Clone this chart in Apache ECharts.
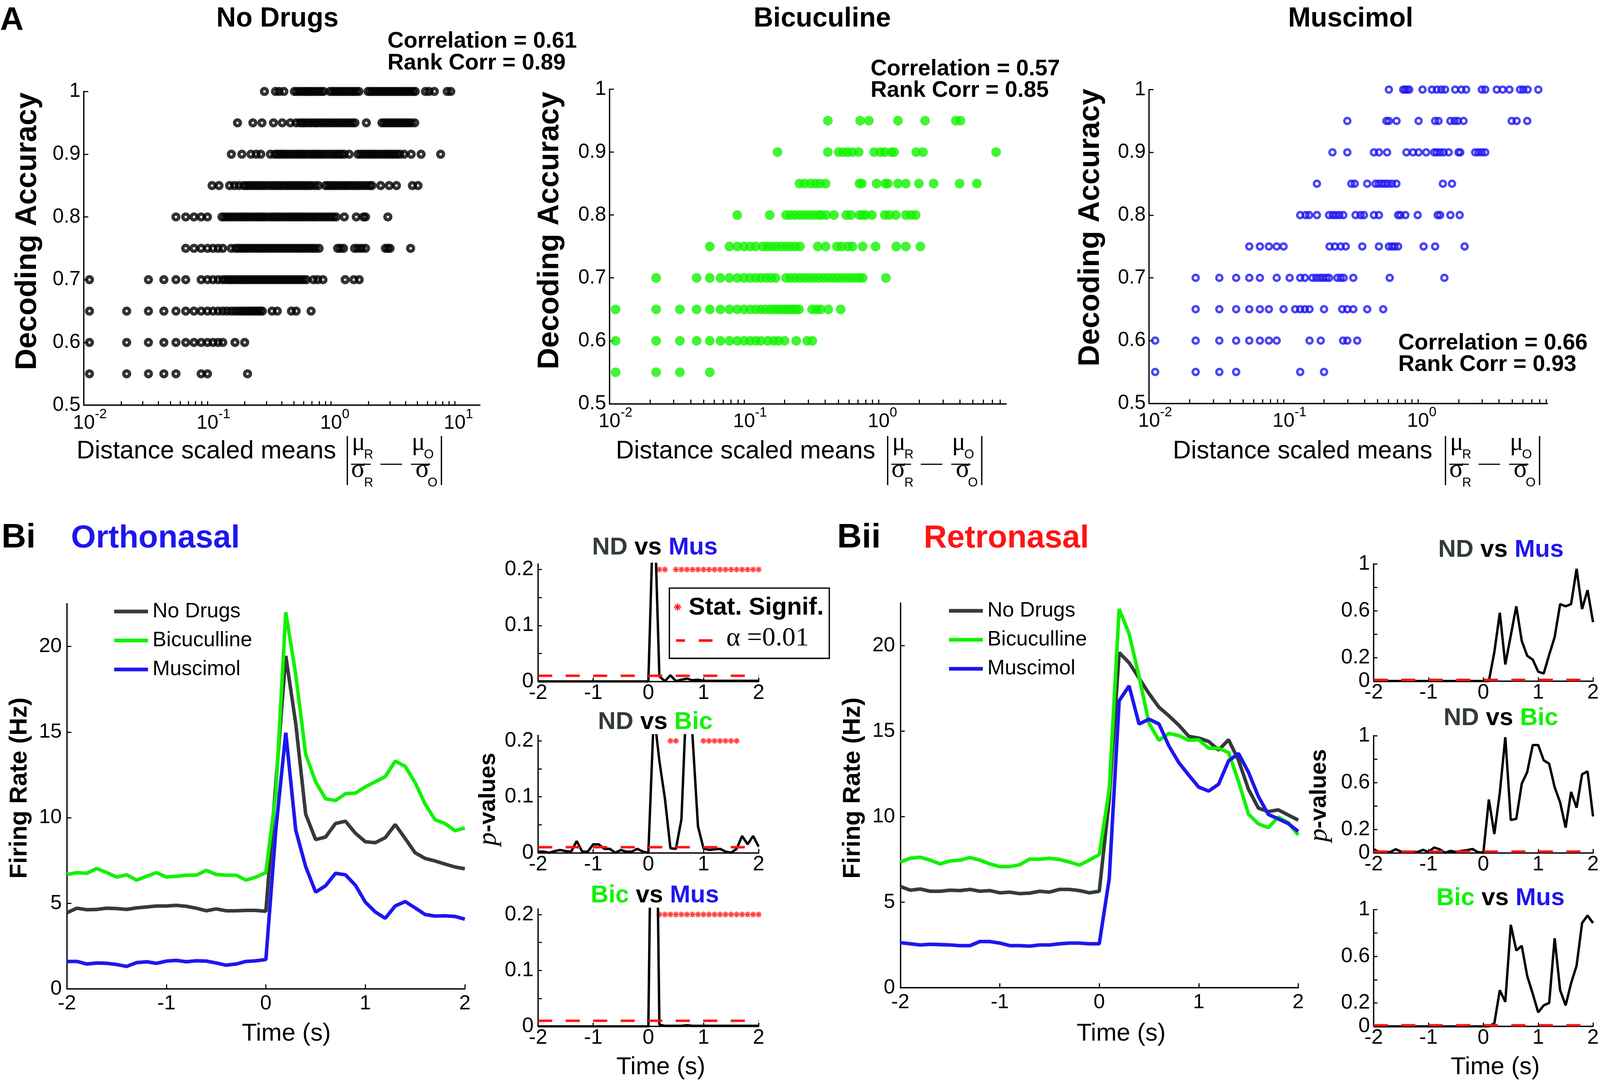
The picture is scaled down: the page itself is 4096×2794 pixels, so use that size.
<!DOCTYPE html>
<html><head><meta charset="utf-8">
<script src="https://cdn.jsdelivr.net/npm/echarts@6/dist/echarts.min.js"></script>
<style>html,body{margin:0;padding:0;background:#fff}#c{width:4096px;height:2794px}</style>
</head><body><div id="c"></div>
<script>
// ---------------- DATA ----------------
const accLevels = [1.0, 0.95, 0.9, 0.85, 0.8, 0.75, 0.7, 0.65, 0.6, 0.55];

// No Drugs: distance values per accuracy level
const nd100 = [0.289,0.355,0.38,0.415,0.505,0.53,0.56,0.59,0.62,0.65,0.68,0.71,0.75,0.79,0.83,0.87,0.98,1.03,1.08,1.13,1.19,1.25,1.31,1.38,1.45,1.52,1.6,1.68,1.99,2.08,2.18,2.28,2.39,2.5,2.62,2.75,2.88,3.02,3.16,3.31,3.47,3.64,3.81,3.99,4.18,4.38,4.6,4.8,5.8,6.2,6.85,8.7,9.3];
const nd095 = [0.175,0.233,0.276,0.342,0.403,0.468,0.522,0.56,0.59,0.62,0.66,0.7,0.74,0.78,0.83,0.88,0.935,0.99,1.05,1.11,1.18,1.25,1.32,1.4,1.48,1.56,1.93,2.58,2.7,2.83,2.97,3.12,3.28,3.45,3.62,3.8,4.0,4.2,4.45,4.75];
const nd090 = [0.156,0.19,0.225,0.248,0.27,0.323,0.35,0.37,0.39,0.41,0.435,0.46,0.49,0.52,0.55,0.58,0.61,0.65,0.69,0.73,0.77,0.81,0.86,0.91,0.97,1.03,1.09,1.15,1.21,1.28,1.4,1.65,1.74,1.84,1.95,2.06,2.18,2.3,2.44,2.58,2.73,2.89,3.05,3.22,3.4,3.6,3.9,4.45,5.35,7.7];
const nd085 = [0.109,0.124,0.151,0.165,0.18,0.196,0.207,0.219,0.232,0.246,0.26,0.275,0.29,0.31,0.33,0.35,0.37,0.39,0.415,0.44,0.465,0.49,0.52,0.55,0.58,0.615,0.65,0.69,0.74,0.79,0.9,0.95,1.0,1.06,1.12,1.19,1.26,1.33,1.41,1.5,1.59,1.69,1.8,1.92,2.05,2.14,2.52,2.95,3.38,4.55,5.05];
const nd080 = [0.0556,0.0667,0.0778,0.0889,0.1,0.131,0.138,0.146,0.155,0.164,0.174,0.185,0.196,0.207,0.219,0.232,0.246,0.26,0.275,0.29,0.31,0.33,0.35,0.37,0.39,0.415,0.44,0.465,0.49,0.52,0.55,0.58,0.615,0.65,0.69,0.73,0.77,0.82,0.87,0.92,0.98,1.04,1.1,1.28,1.6,1.83,1.9,2.88];
const nd075 = [0.0667,0.0778,0.0889,0.1,0.111,0.122,0.133,0.156,0.169,0.178,0.189,0.2,0.211,0.224,0.237,0.251,0.266,0.282,0.299,0.316,0.335,0.355,0.376,0.398,0.422,0.447,0.473,0.501,0.531,0.562,0.596,0.631,0.668,0.708,0.75,0.8,1.13,1.19,1.26,1.55,1.65,1.77,1.9,2.75,2.88,3.0,4.4];
const nd070 = [0.0111,0.0333,0.0444,0.0556,0.0667,0.0889,0.1,0.111,0.122,0.133,0.141,0.15,0.158,0.167,0.178,0.189,0.2,0.211,0.224,0.237,0.251,0.266,0.282,0.299,0.316,0.335,0.355,0.376,0.398,0.422,0.447,0.473,0.501,0.531,0.562,0.596,0.631,0.72,0.78,0.86,1.3,1.53,1.69];
const nd065 = [0.0111,0.0222,0.0333,0.0444,0.0556,0.0667,0.0778,0.0889,0.1,0.111,0.122,0.133,0.144,0.156,0.167,0.178,0.189,0.2,0.211,0.222,0.233,0.244,0.256,0.267,0.278,0.333,0.367,0.478,0.522,0.689];
const nd060 = [0.0111,0.0222,0.0333,0.0444,0.0556,0.0667,0.0778,0.0889,0.1,0.111,0.122,0.133,0.167,0.2];
const nd055 = [0.0111,0.0222,0.0333,0.0444,0.0556,0.0889,0.1,0.211];

// Bicuculline
const bic100 = [];
const bic095 = [0.419,0.728,0.845,1.39,2.21,3.74,4.05];
const bic090 = [0.177,0.419,0.504,0.545,0.59,0.638,0.71,0.925,1.03,1.11,1.24,1.3,1.9,2.13,7.45];
const bic085 = [0.258,0.282,0.313,0.339,0.367,0.403,0.72,0.75,0.964,1.12,1.17,1.39,1.59,1.99,2.56,3.99,5.36];
const bic080 = [0.0889,0.155,0.205,0.221,0.239,0.26,0.282,0.305,0.33,0.357,0.375,0.408,0.465,0.574,0.622,0.72,0.76,0.8,0.89,1.11,1.2,1.34,1.59,1.74,1.88];
const bic075 = [0.0556,0.0778,0.0889,0.1,0.111,0.122,0.138,0.149,0.161,0.174,0.19,0.205,0.221,0.239,0.26,0.353,0.403,0.49,0.531,0.59,0.638,0.76,0.948,1.35,1.59,2.04];
const bic070 = [0.0222,0.0444,0.0556,0.0667,0.0778,0.0889,0.1,0.111,0.122,0.133,0.146,0.158,0.171,0.205,0.221,0.239,0.26,0.282,0.305,0.33,0.357,0.387,0.42,0.455,0.49,0.53,0.575,0.62,0.67,0.72,0.76,1.13];
const bic065 = [0.0111,0.0222,0.0333,0.0444,0.0556,0.0667,0.0778,0.0889,0.1,0.111,0.122,0.133,0.144,0.156,0.167,0.178,0.189,0.2,0.211,0.222,0.233,0.244,0.256,0.32,0.345,0.37,0.422,0.522];
const bic060 = [0.0111,0.0222,0.0333,0.0444,0.0556,0.0667,0.0778,0.0889,0.1,0.111,0.122,0.133,0.15,0.166,0.18,0.2,0.244,0.294,0.321];
const bic055 = [0.0111,0.0222,0.0333,0.0556];

// Muscimol
const mus100 = [0.607,0.776,0.8,0.83,0.86,1.08,1.27,1.38,1.49,1.59,1.89,2.1,2.28,2.98,3.16,3.85,4.26,4.78,5.73,6.07,6.53,7.84];
const mus095 = [0.298,0.582,0.607,0.692,1.01,1.34,1.42,1.74,1.87,1.98,2.18,4.97,5.41,6.49];
const mus090 = [0.231,0.298,0.47,0.512,0.589,0.82,0.918,1.01,1.15,1.32,1.38,1.46,1.55,1.69,2.0,2.06,2.66,2.81,2.98,3.16];
const mus085 = [0.177,0.319,0.338,0.419,0.483,0.51,0.54,0.57,0.6,0.64,0.69,1.53,1.79];
const mus080 = [0.133,0.146,0.155,0.177,0.218,0.232,0.245,0.26,0.278,0.343,0.374,0.396,0.47,0.512,0.711,0.74,0.805,0.994,1.4,1.46,1.74,2.04];
const mus075 = [0.0556,0.0667,0.0778,0.0889,0.1,0.22,0.241,0.266,0.29,0.385,0.512,0.607,0.64,0.67,0.711,1.1,1.34,2.22];
const mus070 = [0.0222,0.0333,0.0444,0.0556,0.0667,0.0889,0.111,0.133,0.144,0.164,0.175,0.186,0.197,0.208,0.218,0.251,0.266,0.28,0.33,0.616,1.57];
const mus065 = [0.0222,0.0333,0.0444,0.0556,0.0667,0.0778,0.1,0.122,0.133,0.144,0.156,0.2,0.273,0.298,0.33,0.419,0.551];
const mus060 = [0.0111,0.0222,0.0333,0.0444,0.0556,0.0667,0.0778,0.0889,0.156,0.189,0.277,0.298,0.353];
const mus055 = [0.0111,0.0222,0.0333,0.0444,0.133,0.2];

// Firing rates (Hz) over time (s)
const timeSec = [-2,-1.9,-1.8,-1.7,-1.6,-1.5,-1.4,-1.3,-1.2,-1.1,-1,-0.9,-0.8,-0.7,-0.6,-0.5,-0.4,-0.3,-0.2,-0.1,0,0.1,0.2,0.3,0.4,0.5,0.6,0.7,0.8,0.9,1,1.1,1.2,1.3,1.4,1.5,1.6,1.7,1.8,1.9,2];
const orthoND  = [4.45,4.71,4.62,4.64,4.71,4.69,4.64,4.73,4.78,4.84,4.84,4.88,4.82,4.71,4.56,4.67,4.56,4.56,4.58,4.58,4.53,12.0,19.45,15.5,10.2,8.72,8.87,9.66,9.79,9.09,8.59,8.54,8.83,9.6,8.78,7.95,7.62,7.47,7.29,7.12,7.01];
const orthoBic = [6.68,6.79,6.75,7.03,6.79,6.53,6.66,6.35,6.57,6.79,6.53,6.57,6.64,6.64,6.92,6.68,6.64,6.64,6.35,6.53,6.79,11.4,22.0,18.36,13.7,12.1,11.1,11.0,11.4,11.43,11.8,12.1,12.4,13.3,13.0,12.05,10.8,9.88,9.66,9.24,9.4];
const orthoMus = [1.6,1.6,1.45,1.51,1.49,1.42,1.31,1.53,1.58,1.49,1.62,1.66,1.58,1.64,1.62,1.51,1.38,1.45,1.6,1.64,1.71,9.3,14.96,9.27,7.14,5.65,6.02,6.75,6.66,6.05,5.06,4.49,4.12,4.84,5.1,4.73,4.34,4.25,4.27,4.23,4.07];
const retroND  = [5.92,5.70,5.77,5.64,5.64,5.70,5.68,5.75,5.64,5.68,5.55,5.59,5.50,5.53,5.64,5.59,5.75,5.75,5.68,5.55,5.64,11.0,19.6,19.0,18.1,17.2,16.4,15.9,15.35,14.7,14.6,14.4,13.9,14.5,13.3,11.6,10.5,10.3,10.4,10.1,9.8];
const retroBic = [7.35,7.57,7.63,7.46,7.24,7.41,7.46,7.61,7.46,7.24,7.08,7.08,7.19,7.52,7.52,7.57,7.5,7.35,7.17,7.46,7.79,11.6,22.15,20.7,18.2,15.46,14.47,14.87,14.74,14.47,14.5,14.0,14.0,13.75,12.06,10.15,9.58,9.36,9.98,9.65,8.93];
const retroMus = [2.63,2.57,2.5,2.54,2.52,2.5,2.46,2.46,2.7,2.7,2.61,2.46,2.46,2.43,2.5,2.5,2.57,2.61,2.61,2.57,2.57,6.36,16.78,17.65,15.42,15.7,15.42,14.14,13.16,12.43,11.73,11.5,11.9,13.27,13.7,12.6,11.18,10.13,9.87,9.6,9.14];

// p-values
const orthoP_NDMus  = [0,0,0,0,0,0,0,0,0,0,0,0,0,0,0,0,0,0,0,0,0,0.34,0.009,0.0005,0.011,0.0005,0.003,0.005,0.002,0.003,0.001,0.001,0.001,0.001,0.001,0.001,0.001,0.001,0.001,0.001,0.001];
const orthoP_NDBic  = [0.002,0.002,0,0.003,0.005,0.003,0.002,0.021,0.002,0.002,0.015,0.015,0.007,0.007,0,0.005,0.002,0.002,0.007,0.002,0,0.25,0.164,0.097,0.008,0.007,0.06,0.3,0.21,0.047,0.008,0.005,0.006,0.007,0.002,0,0.007,0.03,0.015,0.03,0.011];
const orthoP_BicMus = [0,0,0,0,0,0,0,0,0,0,0,0,0,0,0,0,0,0,0,0,0,0.8,0.003,0.001,0.001,0.001,0.001,0.002,0.001,0.001,0.001,0.001,0.001,0.001,0.001,0.001,0.001,0.001,0.001,0.001,0.001];
const retroP_NDMus  = [0,0,0,0,0,0,0,0,0,0,0,0,0,0,0,0,0,0,0,0,0,0.0,0.247,0.583,0.141,0.39,0.638,0.343,0.215,0.183,0.08,0.064,0.224,0.375,0.657,0.638,0.657,0.958,0.615,0.776,0.503];
const retroP_NDBic  = [0.03,0.006,0.006,0.006,0.03,0.01,0.006,0.006,0.006,0.025,0.006,0.045,0.03,0,0.016,0.006,0.016,0.022,0.032,0.006,0,0.455,0.16,0.513,0.987,0.28,0.29,0.59,0.69,0.92,0.92,0.79,0.76,0.56,0.43,0.215,0.52,0.385,0.67,0.695,0.31];
const retroP_BicMus = [0,0,0,0,0,0,0,0,0,0,0,0,0,0,0,0,0,0,0,0,0,0.0,0.026,0.31,0.21,0.87,0.65,0.69,0.43,0.28,0.12,0.18,0.2,0.755,0.31,0.18,0.37,0.52,0.885,0.95,0.885];
const sigT_NDMus  = [0.2,0.3,0.5,0.6,0.7,0.8,0.9,1,1.1,1.2,1.3,1.4,1.5,1.6,1.7,1.8,1.9,2];
const sigT_NDBic  = [0.4,0.5,1,1.1,1.2,1.3,1.4,1.5,1.6];
const sigT_BicMus = [0.2,0.3,0.4,0.5,0.6,0.7,0.8,0.9,1,1.1,1.2,1.3,1.4,1.5,1.6,1.7,1.8,1.9,2];
const sigLevel = 0.2;
const alphaLevel = 0.01;

// tick values
const logMajorTicks = [0.01,0.1,1,10];
const logMinorTicks = [0.02,0.03,0.04,0.05,0.06,0.07,0.08,0.09,0.2,0.3,0.4,0.5,0.6,0.7,0.8,0.9,2,3,4,5,6,7,8,9];
const frYTicks = [0,5,10,15,20];
const pOrthoYTicks = [0,0.05,0.1,0.15,0.2];
const pOrthoYLabels = [0,0.1,0.2];
const pRetroYTicks = [0,0.2,0.4,0.6,0.8,1];
const pRetroYLabels = [0,0.2,0.6,1];

// ---------------- STYLE / LAYOUT ----------------
const K = 0.952;
const s = v => v * K;
const SANS = "'Liberation Sans', Arial, Helvetica, sans-serif";
const SERIF = "'Liberation Serif', 'Times New Roman', serif";
const GRAY = '#333b3b', GREEN = '#12f200', BLUE = '#1e16f0', RED = '#ff1414';
const STAR = 'path://M40,0L60,0L60,100L40,100Z M0,40L100,40L100,60L0,60Z M7.9,22.1L22.1,7.9L92.1,77.9L77.9,92.1Z M7.9,77.9L77.9,7.9L92.1,22.1L22.1,92.1Z';

const gridRef = [
  [225.5, 246, 1065, 844], [1639, 240, 1067, 846], [3090, 241, 1071, 844],
  [180, 1624, 1070, 1036], [1447, 1517, 593, 316], [1447, 1978, 593, 316], [1447, 2445, 593, 316],
  [2421, 1622, 1070, 1035], [3694, 1517, 592, 315], [3694, 1979, 592, 315], [3694, 2447, 592, 314]
];
const grids = gridRef.map(g => ({left: s(g[0]), top: s(g[1]), width: s(g[2]), height: s(g[3]), containLabel: false}));

const axLine = {show: true, onZero: false, lineStyle: {color: '#000', width: s(3.5)}};
function tickCfg(len, vals) {
  const t = {show: true, inside: true, length: s(len), lineStyle: {color: '#000', width: s(3)}};
  if (vals) t.customValues = vals;
  return t;
}
function valAxis(gi, o) {
  const lab = {show: true, color: '#000', fontFamily: SANS, fontSize: s(o.fs || 55), margin: s(o.margin || 14)};
  if (o.labels) lab.customValues = o.labels;
  const a = {type: 'value', gridIndex: gi, min: o.min, max: o.max, axisLine: axLine,
    axisTick: tickCfg(o.tl || 12, o.ticks), axisLabel: lab, splitLine: {show: false}};
  if (o.interval) a.interval = o.interval;
  return a;
}
function logAxis(gi, max) {
  return {type: 'log', logBase: 10, gridIndex: gi, min: 0.01, max: max, axisLine: axLine,
    axisTick: tickCfg(11, logMajorTicks.concat(logMinorTicks).filter(v => v <= max)),
    axisLabel: {show: true, margin: s(7), customValues: logMajorTicks.filter(v => v <= max),
      formatter: v => { const e = Math.round(Math.log10(v)); return '{h|' + e + '}{n|10}{s|' + e + '}'; },
      rich: {
        h: {fontSize: s(36), fontFamily: SANS, color: 'rgba(0,0,0,0)', height: s(36), padding: [0, 0, s(32), 0]},
        n: {fontSize: s(53), fontFamily: SANS, color: '#000', height: s(52), padding: [s(16), 0, 0, 0]},
        s: {fontSize: s(36), fontFamily: SANS, color: '#000', height: s(36), padding: [0, 0, s(32), 0]}
      }},
    splitLine: {show: false}};
}
const accAxis = gi => valAxis(gi, {min: 0.5, max: 1, interval: 0.1, fs: 54, margin: 9, tl: 12});
const frX = gi => valAxis(gi, {min: -2, max: 2, interval: 1, margin: 13});
const frY = gi => valAxis(gi, {min: 0, max: 22.5, ticks: frYTicks, labels: frYTicks, margin: 14});
const pX = gi => valAxis(gi, {min: -2, max: 2, interval: 1, fs: 56, margin: 4, tl: 10});
const pOY = gi => valAxis(gi, {min: 0, max: 0.21, ticks: pOrthoYTicks, labels: pOrthoYLabels, fs: 56, margin: 12, tl: 10});
const pRY = gi => valAxis(gi, {min: 0, max: 1, ticks: pRetroYTicks, labels: pRetroYLabels, fs: 56, margin: 10, tl: 10});

const xAxis = [logAxis(0, 16), logAxis(1, 8.87), logAxis(2, 9.16), frX(3), pX(4), pX(5), pX(6), frX(7), pX(8), pX(9), pX(10)];
const yAxis = [accAxis(0), accAxis(1), accAxis(2), frY(3), pOY(4), pOY(5), pOY(6), frY(7), pRY(8), pRY(9), pRY(10)];

// ---------------- SERIES ----------------
function rowsToData(rows) {
  const out = [];
  rows.forEach((row, i) => row.forEach(x => out.push([x, accLevels[i]])));
  return out;
}
const ndRows = [nd100, nd095, nd090, nd085, nd080, nd075, nd070, nd065, nd060, nd055];
const bicRows = [bic100, bic095, bic090, bic085, bic080, bic075, bic070, bic065, bic060, bic055];
const musRows = [mus100, mus095, mus090, mus085, mus080, mus075, mus070, mus065, mus060, mus055];
const pair = arr => timeSec.map((t, i) => [t, arr[i]]);

const series = [];
series.push({type: 'scatter', xAxisIndex: 0, yAxisIndex: 0, data: rowsToData(ndRows), symbol: 'circle', symbolSize: s(15.5), clip: false,
  itemStyle: {color: 'rgba(0,0,0,0)', borderColor: '#000', borderWidth: s(9)}, silent: true});
series.push({type: 'scatter', xAxisIndex: 1, yAxisIndex: 1, data: rowsToData(bicRows), symbol: 'circle', symbolSize: s(26), clip: false,
  itemStyle: {color: GREEN}, silent: true});
series.push({type: 'scatter', xAxisIndex: 2, yAxisIndex: 2, data: rowsToData(musRows), symbol: 'circle', symbolSize: s(16), clip: false,
  itemStyle: {color: 'rgba(0,0,0,0)', borderColor: BLUE, borderWidth: s(6.5)}, silent: true});

function frLine(gi, name, arr, color) {
  return {type: 'line', name, xAxisIndex: gi, yAxisIndex: gi, data: pair(arr), showSymbol: false, symbol: 'none',
    lineStyle: {color, width: s(9.5)}, itemStyle: {color}, silent: true};
}
[[3, orthoND, orthoBic, orthoMus], [7, retroND, retroBic, retroMus]].forEach(([gi, a, b, c]) => {
  series.push(frLine(gi, 'No Drugs', a, GRAY), frLine(gi, 'Bicuculline', b, GREEN), frLine(gi, 'Muscimol', c, BLUE));
});

function pSeries(gi, arr, stars) {
  series.push({type: 'line', xAxisIndex: gi, yAxisIndex: gi, data: pair(arr), showSymbol: false, symbol: 'none',
    lineStyle: {color: '#000', width: s(6.5)}, silent: true, clip: true});
  series.push({type: 'line', xAxisIndex: gi, yAxisIndex: gi, data: [[-2, alphaLevel], [2, alphaLevel]], showSymbol: false, symbol: 'none',
    lineStyle: {color: RED, width: s(6.5), type: [s(38), s(36)]}, silent: true});
  if (stars) series.push({type: 'scatter', xAxisIndex: gi, yAxisIndex: gi, data: stars.map(t => [t, sigLevel]), symbol: STAR,
    symbolSize: s(16), itemStyle: {color: RED}, silent: true, clip: false});
}
pSeries(4, orthoP_NDMus, sigT_NDMus);
pSeries(5, orthoP_NDBic, sigT_NDBic);
pSeries(6, orthoP_BicMus, sigT_BicMus);
pSeries(8, retroP_NDMus);
pSeries(9, retroP_NDBic);
pSeries(10, retroP_BicMus);

// ---------------- GRAPHIC TEXT ----------------
const G = [];
function txtB(x, base, text, size, opts) {
  G.push({type: 'text', silent: true, x: s(x), y: s(base - 0.35 * size),
    style: Object.assign({text, fontSize: s(size), fontFamily: SANS, fill: '#000', align: 'left', verticalAlign: 'middle'}, opts || {})});
}
function rotTxt(cx, cy, text, size, opts) {
  G.push({type: 'text', silent: true, x: s(cx), y: s(cy), rotation: Math.PI / 2,
    style: Object.assign({text, fontSize: s(size), fontFamily: SANS, fontWeight: 'bold', fill: '#000', align: 'center', verticalAlign: 'middle'}, opts || {})});
}
function ln(x1, y1, x2, y2, w, color) {
  G.push({type: 'line', silent: true, shape: {x1: s(x1), y1: s(y1), x2: s(x2), y2: s(y2)}, style: {stroke: color || '#000', lineWidth: s(w)}});
}
const B = {fontWeight: 'bold'};

txtB(0, 87, 'A', 88, B);
txtB(746, 77, 'No Drugs', 73, {fontWeight: 'bold', align: 'center'});
txtB(2211, 77, 'Bicuculine', 73, {fontWeight: 'bold', align: 'center'});
txtB(3632, 77, 'Muscimol', 73, {fontWeight: 'bold', align: 'center'});
txtB(1042, 133, 'Correlation = 0.61', 60.5, B); txtB(1042, 191, 'Rank Corr = 0.89', 60.5, B);
txtB(2341, 207, 'Correlation = 0.57', 60.5, B); txtB(2341, 265, 'Rank Corr = 0.85', 60.5, B);
txtB(3760, 945, 'Correlation = 0.66', 60.5, B); txtB(3760, 1002, 'Rank Corr = 0.93', 60.5, B);
rotTxt(75, 622, 'Decoding Accuracy', 80);
rotTxt(1479, 620, 'Decoding Accuracy', 80);
rotTxt(2933, 612, 'Decoding Accuracy', 80);

function distanceLabel(x0, xb) {
  txtB(x0, 1238, 'Distance scaled means', 67.5);
  ln(xb, 1173, xb, 1305, 3.5); ln(xb + 253, 1173, xb + 253, 1305, 3.5);
  ln(xb + 10, 1249, xb + 63, 1249, 3); ln(xb + 171, 1249, xb + 223, 1249, 3); ln(xb + 89, 1249, xb + 147, 1249, 3);
  const SF = {fontFamily: SERIF};
  txtB(xb + 12, 1216, 'μ', 68, SF); txtB(xb + 45, 1236, 'R', 34);
  txtB(xb + 10, 1289, 'σ', 70, SF); txtB(xb + 45, 1311, 'R', 34);
  txtB(xb + 173, 1216, 'μ', 68, SF); txtB(xb + 206, 1236, 'O', 34);
  txtB(xb + 183, 1289, 'σ', 70, SF); txtB(xb + 216, 1311, 'O', 34);
}
distanceLabel(206, 934);
distanceLabel(1656, 2387);
distanceLabel(3154, 3887);

txtB(4, 1479, 'Bi', 92, B);
txtB(191, 1479, 'Orthonasal', 86, {fontWeight: 'bold', fill: BLUE});
txtB(2251, 1479, 'Bii', 92, B);
txtB(2484, 1479, 'Retronasal', 86, {fontWeight: 'bold', fill: RED});

rotTxt(53, 2120, 'Firing Rate (Hz)', 66);
rotTxt(2294, 2120, 'Firing Rate (Hz)', 66);
txtB(770, 2804, 'Time (s)', 66, {align: 'center'});
txtB(3015, 2804, 'Time (s)', 66, {align: 'center'});
txtB(1777, 2895, 'Time (s)', 66, {align: 'center'});
txtB(4021, 2895, 'Time (s)', 66, {align: 'center'});

const titleRich = {
  g: {fill: GRAY, fontSize: s(66), fontWeight: 'bold', fontFamily: SANS},
  k: {fill: '#000', fontSize: s(66), fontWeight: 'bold', fontFamily: SANS},
  gr: {fill: GREEN, fontSize: s(66), fontWeight: 'bold', fontFamily: SANS},
  b: {fill: BLUE, fontSize: s(66), fontWeight: 'bold', fontFamily: SANS}
};
function pTitle(cx, base, txt) { txtB(cx, base, txt, 66, {fontWeight: 'bold', align: 'center', rich: titleRich}); }
pTitle(1761, 1496, '{g|ND} {k|vs} {b|Mus}');
pTitle(1762, 1966, '{g|ND} {k|vs} {gr|Bic}');
pTitle(1761, 2432, '{gr|Bic} {k|vs} {b|Mus}');
pTitle(4036, 1503, '{g|ND} {k|vs} {b|Mus}');
pTitle(4036, 1956, '{g|ND} {k|vs} {gr|Bic}');
pTitle(4035, 2440, '{gr|Bic} {k|vs} {b|Mus}');

const pvRich = {
  p: {fontFamily: SERIF, fontStyle: 'italic', fontSize: s(72), fill: '#000'},
  v: {fontFamily: SANS, fontWeight: 'bold', fontSize: s(62), fill: '#000'}
};
rotTxt(1314, 2150, '{p|p}{v|-values}', 62, {rich: pvRich});
rotTxt(3548, 2140, '{p|p}{v|-values}', 62, {rich: pvRich});

// significance legend box
G.push({type: 'rect', silent: true, shape: {x: s(1800), y: s(1582), width: s(430), height: s(189)}, style: {fill: '#fff', stroke: '#000', lineWidth: s(3.5)}});
(function star(cx, cy, r) {
  ln(cx, cy - r, cx, cy + r, 3, RED); ln(cx - r, cy, cx + r, cy, 3, RED);
  ln(cx - 0.7 * r, cy - 0.7 * r, cx + 0.7 * r, cy + 0.7 * r, 3, RED); ln(cx - 0.7 * r, cy + 0.7 * r, cx + 0.7 * r, cy - 0.7 * r, 3, RED);
})(1822, 1633, 10);
txtB(1852, 1658, 'Stat. Signif.', 66, B);
ln(1818, 1723, 1842, 1723, 7, RED); ln(1879, 1723, 1916, 1723, 7, RED);
txtB(1953, 1743, 'α =0.01', 72, {fontFamily: SERIF});

// ---------------- OPTION ----------------
const legendBase = {data: ['No Drugs', 'Bicuculline', 'Muscimol'], orient: 'vertical', icon: 'rect', itemWidth: s(91), itemHeight: s(10),
  itemGap: s(18), selectedMode: false, padding: 0,
  textStyle: {fontSize: s(56), fontFamily: SANS, color: '#000', lineHeight: s(60), padding: [0, 0, 0, s(7)]}};
const option = {
  animation: false,
  backgroundColor: '#fff',
  textStyle: {fontFamily: SANS},
  grid: grids,
  xAxis, yAxis,
  legend: [Object.assign({}, legendBase, {left: s(307), top: s(1615)}), Object.assign({}, legendBase, {left: s(2552), top: s(1613)})],
  series,
  graphic: {elements: G}
};
const chart = echarts.init(document.getElementById('c'), null, {renderer: 'canvas'});
chart.setOption(option);
</script></body></html>
